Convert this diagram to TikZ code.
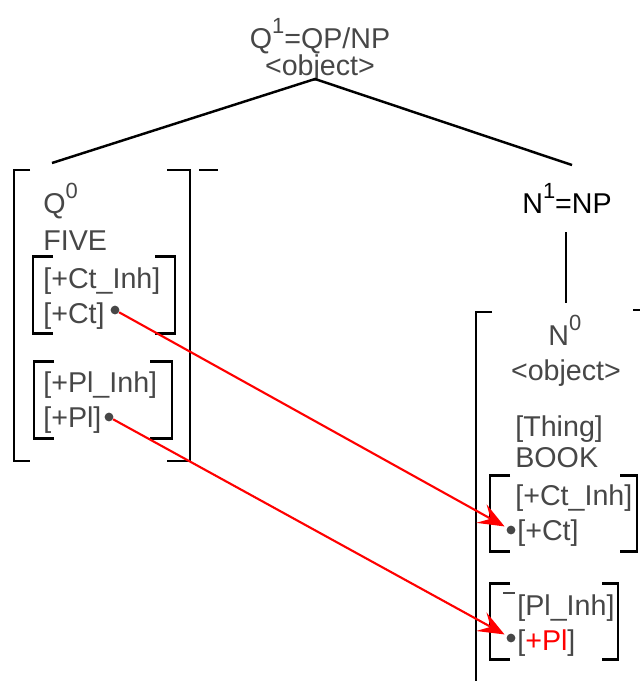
\documentclass[tikz,border=0pt]{standalone}
\usepackage{fontspec}
\setmainfont{Liberation Sans}
\usepackage{xcolor}
\usetikzlibrary{arrows.meta, positioning}
\definecolor{txtgray}{HTML}{474747}
\newcommand\barlevel[1]{\raisebox{0.5em}{\fontsize{12.5}{13}\selectfont #1}}

\begin{document}
\begin{tikzpicture}[
    x=0.02cm, y=-0.02cm,
    lbl/.style={anchor=base west, inner sep=0pt, text=txtgray, font=\fontsize{16.3}{18}\selectfont},
    bigbrk/.style={line width=1.1pt},
    smallbrk/.style={line width=1.7pt},
    branch/.style={line width=1.4pt},
    dot/.style={circle, fill=txtgray, inner sep=0pt, minimum size=5pt},
    link/.style={-{Stealth[length=15pt, width=12pt, inset=6pt]}, red, line width=1.2pt, shorten >=1.5pt}
]
    \useasboundingbox (0,0) rectangle (640,681);

    % QP/NP
    \node[lbl, anchor=base] (q1) at (320,48) {Q\barlevel{1}=QP/NP};
    \node[lbl, anchor=base] (obj1) at (320,75) {<object>};
    \coordinate (apex) at (315,79);
    \coordinate (qleg) at (52,163);
    \coordinate (nleg) at (572,165);
    \draw[branch] (qleg) -- (apex) -- (nleg);

    % Q0 box
    \draw[bigbrk] (30,170) -| (14,461) -- (30,461);
    \draw[bigbrk] (167,170) -| (190,461) -- (167,461);
    \draw[bigbrk] (199,170) -- (218,170);
    \node[lbl] (q0) at (43,213) {Q\barlevel{0}};
    \node[lbl] (five) at (43,250) {FIVE};

    % count
    \draw[smallbrk] (53,256) -| (33,333) -- (53,333);
    \draw[smallbrk] (155,256) -| (175,333) -- (155,333);
    \node[lbl] (qctinh) at (43,288) {[+Ct\_Inh]};
    \node[lbl] (qct) at (43,323) {[+Ct]};
    \node[dot] (qctdot) at (115,310) {};

    % plural
    \draw[smallbrk] (54,361) -| (34,438) -- (54,438);
    \draw[smallbrk] (150,361) -| (172,438) -- (150,438);
    \node[lbl] (qplinh) at (43,392) {[+Pl\_Inh]};
    \node[lbl] (qpl) at (43,427) {[+Pl]};
    \node[dot] (qpldot) at (109,417) {};

    % NP
    \node[lbl, text=black] (n1) at (522,213) {N\barlevel{1}=NP};
    \coordinate (ntop) at (566,232);
    \coordinate (nbot) at (566,303);
    \draw[branch] (ntop) -- (nbot);

    % N0 box
    \draw[bigbrk] (492,312) -| (476,681);
    \draw[bigbrk] (633,310) -- (640,310);
    \node[lbl] (n0) at (548,345) {N\barlevel{0}};
    \node[lbl, anchor=base] (obj0) at (566,380) {<object>};
    \node[lbl] (thing) at (515,436) {[Thing]};
    \node[lbl] (book) at (515,467) {BOOK};

    % count
    \draw[smallbrk] (510,475) -| (490,551) -- (510,551);
    \draw[smallbrk] (620,475) -| (637,551) -- (620,551);
    \node[lbl] (nctinh) at (515,505) {[+Ct\_Inh]};
    \node[lbl] (nct) at (517,540) {[+Ct]};
    \node[dot] (nctdot) at (511,530) {};

    % plural
    \draw[smallbrk] (510,583) -| (490,659) -- (510,659);
    \draw[smallbrk] (602,583) -| (618,659) -- (602,659);
    \draw[line width=1pt, txtgray] (503,593) -- (515,593);
    \node[lbl] (nplinh) at (517,615) {[Pl\_Inh]};
    \node[lbl] (npl) at (517,650) {[\textcolor{red}{+Pl}]};
    \node[dot] (npldot) at (511,638) {};

    % agreement
    \draw[link] (qctdot) -- (nctdot);
    \draw[link] (qpldot) -- (npldot);
\end{tikzpicture}
\end{document}
